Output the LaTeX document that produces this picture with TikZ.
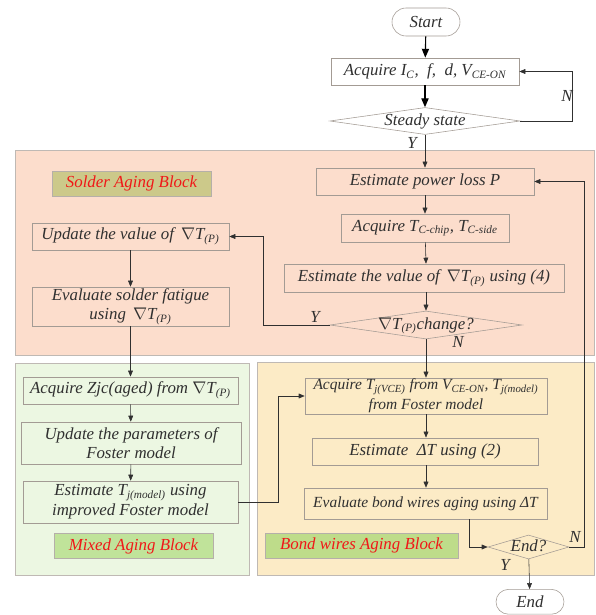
\documentclass[tikz,border=0pt]{standalone}
\usepackage{fontspec}
\setmainfont{Liberation Serif}
\usetikzlibrary{
  positioning,
  arrows.meta,
  shapes.geometric,
  shapes.misc,
  calc
}
\definecolor{agPeach}{HTML}{FCDDCC}
\definecolor{agGreenL}{HTML}{ECF7E2}
\definecolor{agYellowL}{HTML}{FCEBC6}
\definecolor{agKhaki}{HTML}{CCC98A}
\definecolor{agGreen}{HTML}{C0E39A}
\definecolor{agOlive}{HTML}{BEDC8A}
\definecolor{agLine}{HTML}{A39B94}
\definecolor{agText}{HTML}{303030}
\definecolor{agRed}{HTML}{F01818}

\begin{document}
\begin{tikzpicture}[
  every node/.style={font=\fontsize{12}{14}\selectfont\itshape, align=center, text=agText},
  terminal/.style={
    rounded rectangle, draw=agLine, fill=white,
    minimum width=1.7cm, minimum height=0.7cm, inner sep=0pt
  },
  procbox/.style={
    rectangle, draw=agLine, inner sep=0pt,
    minimum height=0.68cm
  },
  decision/.style={
    diamond, draw=agLine, inner sep=0pt, shape aspect=7,
    text height=1.5ex, text depth=0.25ex
  },
  blocktag/.style={
    rectangle, draw=agLine!80, text=agRed, inner sep=0pt,
    minimum height=0.62cm
  },
  block/.style={draw=agLine!70},
  smalltext/.style={font=\fontsize{11}{14}\selectfont\itshape},
  arrow/.style={-{Triangle[length=1.5mm,width=1.2mm]}, draw=agText},
  mainarrow/.style={-{Triangle[length=2.2mm,width=1.8mm]}, draw=black, thick}
]
 \useasboundingbox (0,0) rectangle (14.9,15.375);

 % Blocks
 \filldraw[block, fill=agPeach]   (0.375,6.5) rectangle (14.85,11.625);
 \filldraw[block, fill=agGreenL]  (0.375,1.0) rectangle (6.225,6.3);
 \filldraw[block, fill=agYellowL] (6.425,1.0) rectangle (14.85,6.325);

 % Top -- acquisition loop
 \node[terminal]                           (start) at (10.65,14.825) {Start};
 \node[procbox, minimum width=4.7cm]       (acq)   at (10.625,13.5875)
   {Acquire I\textsubscript{C}, \ f, \ d, V\textsubscript{CE-ON}};
 \node[decision, minimum width=4.75cm, minimum height=0.675cm]
                                           (steady) at (10.625,12.35) {Steady state};

 \draw[mainarrow] (start) -- (acq);
 \draw[mainarrow] (acq) -- (steady);
 \draw[arrow] (steady.east) -- ++(1.3,0) |- (acq.east);
 \node (nsteady) at (14.175,12.975) {N};
 \node (ysteady) at (10.3,11.8) {Y};

 % Solder block -- right column
 \node[procbox, minimum width=5.45cm]      (ploss) at (10.625,10.8375) {Estimate power loss P};
 \node[procbox, minimum width=4.2cm, minimum height=0.7cm]
                                           (acqtc) at (10.625,9.675)
   {Acquire T\textsubscript{C-chip}, T\textsubscript{C-side}};
 \node[procbox, minimum width=7.0cm, minimum height=0.7cm]
                                           (estgrad) at (10.6,8.425)
   {Estimate the value of \,$\nabla$T\textsubscript{(P)} using (4)};
 \node[decision, minimum width=4.8cm, minimum height=0.7cm]
                                           (chg) at (10.65,7.25) {$\nabla$T\textsubscript{(P)}change?};

 \draw[arrow] (steady) -- (ploss);
 \draw[arrow] (ploss) -- (acqtc);
 \draw[arrow] (acqtc) -- (chg |- estgrad.north);
 \draw[arrow] (chg |- estgrad.south) -- (chg);

 % Solder block -- left column
 \node[blocktag, fill=agKhaki, minimum width=3.975cm]
                                           (soldertag) at (3.2875,10.7875) {Solder Aging Block};
 \node[procbox, minimum width=4.925cm]     (updgrad) at (3.2625,9.4625)
   {Update the value of \,$\nabla$T\textsubscript{(P)}};
 \node[procbox, minimum width=4.925cm, minimum height=0.975cm]
                                           (evsol) at (3.2625,7.7125)
   {Evaluate solder fatigue\\using \,$\nabla$T\textsubscript{(P)}};

 \draw[arrow] (chg.west) -- ++(-1.65,0) |- (updgrad.east);
 \node (ychg) at (7.875,7.45) {Y};
 \draw[arrow] (updgrad) -- (evsol);

 % Mixed block
 \node[procbox, minimum width=5.375cm]     (acqzjc) at (3.2625,5.6125)
   {Acquire Zjc(aged) from $\nabla$T\textsubscript{(P)}};
 \node[procbox, minimum width=5.5cm, minimum height=1.05cm]
                                           (updfos) at (3.275,4.3)
   {Update the parameters of\\Foster model};
 \node[procbox, minimum width=5.375cm, minimum height=1.05cm]
                                           (esttj) at (3.2625,2.825)
   {Estimate T\textsubscript{j(model)} using\\improved Foster model};
 \node[blocktag, fill=agGreen, minimum width=3.975cm]
                                           (mixedtag) at (3.3375,1.725) {Mixed Aging Block};

 \draw[arrow] (evsol) -- (acqzjc);
 \draw[arrow] (acqzjc) -- (updfos);
 \draw[arrow] (updfos) -- (esttj);

 % Bond wires block
 \node[procbox, smalltext, minimum width=6.05cm, minimum height=0.9cm]
                                           (acqtj) at (10.65,5.475)
   {Acquire T\textsubscript{j(VCE)} from V\textsubscript{CE-ON}, T\textsubscript{j(model)}\\from Foster model};
 \node[procbox, minimum width=5.65cm]      (estdt) at (10.625,4.0875) {Estimate \ ΔT using (2)};
 \node[procbox, smalltext, minimum width=6.075cm, minimum height=0.775cm]
                                           (evbond) at (10.6375,2.7875)
   {Evaluate bond wires aging using ΔT};
 \node[blocktag, fill=agOlive, minimum width=4.825cm]
                                           (bondtag) at (9.0375,1.7375) {Bond wires Aging Block};
 \node[decision, shape aspect=3.4, minimum width=2.025cm, minimum height=0.6cm]
                                           (endq) at (13.2125,1.7) {End?};
 \node[terminal, minimum height=0.62cm]    (finish) at (13.25,0.33) {End};

 \draw[arrow] (chg) -- (chg |- acqtj.north);
 \node (nchg) at (11.45,6.825) {N};
 \draw[arrow] (esttj.east) -- ++(1.0,0) |- (acqtj.west);
 \draw[arrow] (acqtj) -- (acqtj |- estdt.north);
 \draw[arrow] (acqtj |- estdt.south) -- (acqtj |- evbond.north);
 \draw[arrow] ($(evbond.south)+(1.09,0)$) |- (endq.west);
 \draw[arrow] (endq.east) -- ++(0.375,0) |- (ploss.east);
 \node (nend) at (14.375,1.95) {N};
 \draw[arrow] (endq) -- (finish);
 \node (yend) at (12.625,1.25) {Y};
\end{tikzpicture}
\end{document}
